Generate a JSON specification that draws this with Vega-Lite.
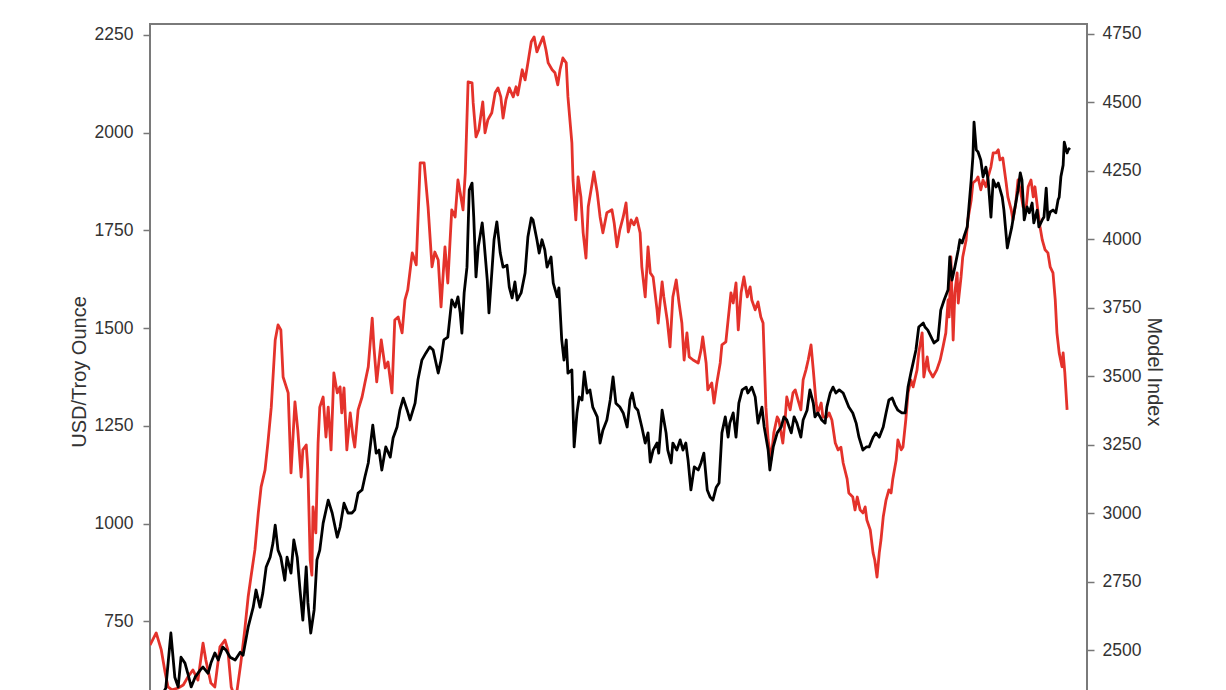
{
  "$schema": "https://vega.github.io/schema/vega-lite/v6.json",
  "width": 937,
  "height": 695,
  "autosize": {"type": "none"},
  "padding": {"left": 150, "top": 24, "right": 139, "bottom": 0},
  "background": "white",
  "config": {
    "view": {"stroke": "#7a7a7a", "strokeWidth": 2},
    "font": "Liberation Sans"
  },
  "datasets": {
    "gold": [
      {"year": 2006.00, "usd": 548}, {"year": 2006.18, "usd": 553}, {"year": 2006.28, "usd": 579}, {"year": 2006.37, "usd": 720},
      {"year": 2006.44, "usd": 607}, {"year": 2006.50, "usd": 582}, {"year": 2006.55, "usd": 658}, {"year": 2006.62, "usd": 643},
      {"year": 2006.67, "usd": 617}, {"year": 2006.73, "usd": 582}, {"year": 2006.80, "usd": 607}, {"year": 2006.89, "usd": 625},
      {"year": 2006.94, "usd": 633}, {"year": 2007.03, "usd": 617}, {"year": 2007.08, "usd": 643}, {"year": 2007.15, "usd": 669},
      {"year": 2007.21, "usd": 651}, {"year": 2007.29, "usd": 684}, {"year": 2007.35, "usd": 676}, {"year": 2007.42, "usd": 658},
      {"year": 2007.51, "usd": 651}, {"year": 2007.60, "usd": 671}, {"year": 2007.65, "usd": 663}, {"year": 2007.74, "usd": 735},
      {"year": 2007.83, "usd": 786}, {"year": 2007.88, "usd": 830}, {"year": 2007.95, "usd": 786}, {"year": 2008.00, "usd": 822},
      {"year": 2008.06, "usd": 889}, {"year": 2008.13, "usd": 914}, {"year": 2008.18, "usd": 950}, {"year": 2008.22, "usd": 996},
      {"year": 2008.27, "usd": 932}, {"year": 2008.32, "usd": 914}, {"year": 2008.39, "usd": 855}, {"year": 2008.43, "usd": 914},
      {"year": 2008.50, "usd": 873}, {"year": 2008.55, "usd": 958}, {"year": 2008.61, "usd": 914}, {"year": 2008.66, "usd": 830},
      {"year": 2008.71, "usd": 753}, {"year": 2008.77, "usd": 889}, {"year": 2008.80, "usd": 797}, {"year": 2008.85, "usd": 720},
      {"year": 2008.91, "usd": 779}, {"year": 2008.96, "usd": 907}, {"year": 2009.01, "usd": 932}, {"year": 2009.07, "usd": 1001},
      {"year": 2009.16, "usd": 1060}, {"year": 2009.23, "usd": 1027}, {"year": 2009.32, "usd": 965}, {"year": 2009.37, "usd": 991},
      {"year": 2009.44, "usd": 1052}, {"year": 2009.51, "usd": 1027}, {"year": 2009.58, "usd": 1027}, {"year": 2009.63, "usd": 1035},
      {"year": 2009.69, "usd": 1078}, {"year": 2009.76, "usd": 1086}, {"year": 2009.81, "usd": 1119}, {"year": 2009.87, "usd": 1155},
      {"year": 2009.95, "usd": 1252}, {"year": 2010.01, "usd": 1180}, {"year": 2010.06, "usd": 1188}, {"year": 2010.11, "usd": 1137},
      {"year": 2010.18, "usd": 1196}, {"year": 2010.26, "usd": 1170}, {"year": 2010.31, "usd": 1219}, {"year": 2010.38, "usd": 1247},
      {"year": 2010.43, "usd": 1290}, {"year": 2010.49, "usd": 1321}, {"year": 2010.56, "usd": 1290}, {"year": 2010.61, "usd": 1265},
      {"year": 2010.70, "usd": 1308}, {"year": 2010.75, "usd": 1367}, {"year": 2010.82, "usd": 1418}, {"year": 2010.89, "usd": 1436},
      {"year": 2010.96, "usd": 1452}, {"year": 2011.02, "usd": 1444}, {"year": 2011.11, "usd": 1385}, {"year": 2011.16, "usd": 1418},
      {"year": 2011.21, "usd": 1470}, {"year": 2011.28, "usd": 1477}, {"year": 2011.35, "usd": 1572}, {"year": 2011.41, "usd": 1554},
      {"year": 2011.46, "usd": 1580}, {"year": 2011.50, "usd": 1539}, {"year": 2011.53, "usd": 1487}, {"year": 2011.57, "usd": 1590},
      {"year": 2011.62, "usd": 1656}, {"year": 2011.66, "usd": 1853}, {"year": 2011.71, "usd": 1871}, {"year": 2011.74, "usd": 1784},
      {"year": 2011.78, "usd": 1631}, {"year": 2011.82, "usd": 1708}, {"year": 2011.89, "usd": 1769}, {"year": 2011.92, "usd": 1726},
      {"year": 2011.98, "usd": 1623}, {"year": 2012.01, "usd": 1539}, {"year": 2012.06, "usd": 1641}, {"year": 2012.10, "usd": 1726},
      {"year": 2012.15, "usd": 1772}, {"year": 2012.21, "usd": 1692}, {"year": 2012.26, "usd": 1656}, {"year": 2012.33, "usd": 1661},
      {"year": 2012.37, "usd": 1605}, {"year": 2012.42, "usd": 1577}, {"year": 2012.47, "usd": 1618}, {"year": 2012.51, "usd": 1572},
      {"year": 2012.58, "usd": 1590}, {"year": 2012.65, "usd": 1641}, {"year": 2012.70, "usd": 1733}, {"year": 2012.76, "usd": 1782},
      {"year": 2012.79, "usd": 1777}, {"year": 2012.86, "usd": 1726}, {"year": 2012.90, "usd": 1692}, {"year": 2012.95, "usd": 1726},
      {"year": 2013.00, "usd": 1700}, {"year": 2013.04, "usd": 1656}, {"year": 2013.11, "usd": 1682}, {"year": 2013.15, "usd": 1615},
      {"year": 2013.22, "usd": 1580}, {"year": 2013.25, "usd": 1603}, {"year": 2013.30, "usd": 1470}, {"year": 2013.34, "usd": 1418},
      {"year": 2013.38, "usd": 1470}, {"year": 2013.41, "usd": 1385}, {"year": 2013.48, "usd": 1393}, {"year": 2013.52, "usd": 1196},
      {"year": 2013.57, "usd": 1283}, {"year": 2013.61, "usd": 1324}, {"year": 2013.66, "usd": 1316}, {"year": 2013.70, "usd": 1388},
      {"year": 2013.75, "usd": 1334}, {"year": 2013.80, "usd": 1342}, {"year": 2013.85, "usd": 1298}, {"year": 2013.93, "usd": 1273},
      {"year": 2013.98, "usd": 1206}, {"year": 2014.03, "usd": 1239}, {"year": 2014.10, "usd": 1265}, {"year": 2014.16, "usd": 1316},
      {"year": 2014.21, "usd": 1375}, {"year": 2014.26, "usd": 1308}, {"year": 2014.33, "usd": 1298}, {"year": 2014.39, "usd": 1283},
      {"year": 2014.46, "usd": 1247}, {"year": 2014.51, "usd": 1316}, {"year": 2014.55, "usd": 1334}, {"year": 2014.60, "usd": 1298},
      {"year": 2014.65, "usd": 1290}, {"year": 2014.72, "usd": 1247}, {"year": 2014.78, "usd": 1206}, {"year": 2014.83, "usd": 1232},
      {"year": 2014.87, "usd": 1157}, {"year": 2014.92, "usd": 1188}, {"year": 2014.99, "usd": 1206}, {"year": 2015.02, "usd": 1180},
      {"year": 2015.08, "usd": 1290}, {"year": 2015.15, "usd": 1232}, {"year": 2015.18, "usd": 1188}, {"year": 2015.24, "usd": 1155},
      {"year": 2015.27, "usd": 1206}, {"year": 2015.34, "usd": 1188}, {"year": 2015.40, "usd": 1214}, {"year": 2015.45, "usd": 1188},
      {"year": 2015.50, "usd": 1206}, {"year": 2015.54, "usd": 1162}, {"year": 2015.59, "usd": 1086}, {"year": 2015.65, "usd": 1145},
      {"year": 2015.72, "usd": 1137}, {"year": 2015.77, "usd": 1155}, {"year": 2015.82, "usd": 1180}, {"year": 2015.88, "usd": 1086},
      {"year": 2015.93, "usd": 1068}, {"year": 2015.98, "usd": 1060}, {"year": 2016.04, "usd": 1093}, {"year": 2016.09, "usd": 1104},
      {"year": 2016.14, "usd": 1232}, {"year": 2016.20, "usd": 1273}, {"year": 2016.25, "usd": 1221}, {"year": 2016.28, "usd": 1257},
      {"year": 2016.34, "usd": 1283}, {"year": 2016.39, "usd": 1221}, {"year": 2016.44, "usd": 1308}, {"year": 2016.50, "usd": 1342},
      {"year": 2016.57, "usd": 1349}, {"year": 2016.60, "usd": 1334}, {"year": 2016.67, "usd": 1349}, {"year": 2016.73, "usd": 1324},
      {"year": 2016.78, "usd": 1257}, {"year": 2016.85, "usd": 1298}, {"year": 2016.89, "usd": 1247}, {"year": 2016.96, "usd": 1188},
      {"year": 2016.99, "usd": 1137}, {"year": 2017.05, "usd": 1196}, {"year": 2017.12, "usd": 1232}, {"year": 2017.19, "usd": 1247},
      {"year": 2017.24, "usd": 1273}, {"year": 2017.29, "usd": 1265}, {"year": 2017.37, "usd": 1232}, {"year": 2017.42, "usd": 1273},
      {"year": 2017.47, "usd": 1257}, {"year": 2017.54, "usd": 1221}, {"year": 2017.58, "usd": 1265}, {"year": 2017.65, "usd": 1290},
      {"year": 2017.70, "usd": 1342}, {"year": 2017.76, "usd": 1308}, {"year": 2017.79, "usd": 1273}, {"year": 2017.84, "usd": 1283},
      {"year": 2017.91, "usd": 1265}, {"year": 2017.97, "usd": 1257}, {"year": 2018.00, "usd": 1298}, {"year": 2018.06, "usd": 1334},
      {"year": 2018.11, "usd": 1349}, {"year": 2018.16, "usd": 1334}, {"year": 2018.22, "usd": 1342}, {"year": 2018.29, "usd": 1334},
      {"year": 2018.34, "usd": 1316}, {"year": 2018.39, "usd": 1298}, {"year": 2018.46, "usd": 1283}, {"year": 2018.52, "usd": 1257},
      {"year": 2018.57, "usd": 1221}, {"year": 2018.64, "usd": 1188}, {"year": 2018.70, "usd": 1196}, {"year": 2018.75, "usd": 1196},
      {"year": 2018.82, "usd": 1221}, {"year": 2018.87, "usd": 1232}, {"year": 2018.93, "usd": 1221}, {"year": 2019.00, "usd": 1247},
      {"year": 2019.05, "usd": 1283}, {"year": 2019.10, "usd": 1316}, {"year": 2019.16, "usd": 1321}, {"year": 2019.21, "usd": 1303},
      {"year": 2019.26, "usd": 1290}, {"year": 2019.33, "usd": 1283}, {"year": 2019.39, "usd": 1283}, {"year": 2019.44, "usd": 1349},
      {"year": 2019.49, "usd": 1385}, {"year": 2019.53, "usd": 1411}, {"year": 2019.58, "usd": 1444}, {"year": 2019.63, "usd": 1503},
      {"year": 2019.71, "usd": 1513}, {"year": 2019.74, "usd": 1503}, {"year": 2019.79, "usd": 1495}, {"year": 2019.85, "usd": 1477},
      {"year": 2019.90, "usd": 1462}, {"year": 2019.97, "usd": 1470}, {"year": 2020.02, "usd": 1546}, {"year": 2020.08, "usd": 1572},
      {"year": 2020.15, "usd": 1598}, {"year": 2020.18, "usd": 1682}, {"year": 2020.22, "usd": 1623}, {"year": 2020.27, "usd": 1656},
      {"year": 2020.33, "usd": 1700}, {"year": 2020.36, "usd": 1726}, {"year": 2020.40, "usd": 1718}, {"year": 2020.43, "usd": 1733},
      {"year": 2020.49, "usd": 1759}, {"year": 2020.52, "usd": 1810}, {"year": 2020.56, "usd": 1879}, {"year": 2020.59, "usd": 1938},
      {"year": 2020.61, "usd": 2027}, {"year": 2020.65, "usd": 1956}, {"year": 2020.68, "usd": 1951}, {"year": 2020.73, "usd": 1930},
      {"year": 2020.77, "usd": 1887}, {"year": 2020.82, "usd": 1912}, {"year": 2020.86, "usd": 1879}, {"year": 2020.91, "usd": 1784},
      {"year": 2020.95, "usd": 1879}, {"year": 2021.00, "usd": 1861}, {"year": 2021.04, "usd": 1871}, {"year": 2021.11, "usd": 1835},
      {"year": 2021.14, "usd": 1802}, {"year": 2021.20, "usd": 1705}, {"year": 2021.23, "usd": 1726}, {"year": 2021.28, "usd": 1759},
      {"year": 2021.32, "usd": 1795}, {"year": 2021.39, "usd": 1853}, {"year": 2021.43, "usd": 1897}, {"year": 2021.46, "usd": 1879},
      {"year": 2021.50, "usd": 1777}, {"year": 2021.55, "usd": 1810}, {"year": 2021.59, "usd": 1795}, {"year": 2021.64, "usd": 1820},
      {"year": 2021.67, "usd": 1769}, {"year": 2021.73, "usd": 1802}, {"year": 2021.76, "usd": 1759}, {"year": 2021.82, "usd": 1777},
      {"year": 2021.85, "usd": 1784}, {"year": 2021.89, "usd": 1858}, {"year": 2021.92, "usd": 1777}, {"year": 2021.96, "usd": 1797},
      {"year": 2022.01, "usd": 1802}, {"year": 2022.06, "usd": 1795}, {"year": 2022.10, "usd": 1828}, {"year": 2022.12, "usd": 1835},
      {"year": 2022.15, "usd": 1887}, {"year": 2022.19, "usd": 1917}, {"year": 2022.21, "usd": 1976}, {"year": 2022.26, "usd": 1948},
      {"year": 2022.28, "usd": 1956}, {"year": 2022.31, "usd": 1961}
    ],
    "model": [
      {"year": 2006.00, "index": 2520}, {"year": 2006.11, "index": 2564}, {"year": 2006.20, "index": 2502}, {"year": 2006.27, "index": 2418},
      {"year": 2006.32, "index": 2367}, {"year": 2006.39, "index": 2356}, {"year": 2006.50, "index": 2363}, {"year": 2006.59, "index": 2374},
      {"year": 2006.67, "index": 2403}, {"year": 2006.76, "index": 2429}, {"year": 2006.85, "index": 2392}, {"year": 2006.94, "index": 2527},
      {"year": 2006.99, "index": 2465}, {"year": 2007.08, "index": 2381}, {"year": 2007.15, "index": 2367}, {"year": 2007.24, "index": 2513},
      {"year": 2007.33, "index": 2538}, {"year": 2007.38, "index": 2502}, {"year": 2007.44, "index": 2367}, {"year": 2007.52, "index": 2319},
      {"year": 2007.61, "index": 2454}, {"year": 2007.68, "index": 2575}, {"year": 2007.74, "index": 2695}, {"year": 2007.79, "index": 2768},
      {"year": 2007.86, "index": 2867}, {"year": 2007.92, "index": 3002}, {"year": 2007.97, "index": 3097}, {"year": 2008.04, "index": 3159},
      {"year": 2008.09, "index": 3257}, {"year": 2008.15, "index": 3388}, {"year": 2008.22, "index": 3633}, {"year": 2008.27, "index": 3688},
      {"year": 2008.32, "index": 3670}, {"year": 2008.36, "index": 3498}, {"year": 2008.45, "index": 3440}, {"year": 2008.50, "index": 3148},
      {"year": 2008.57, "index": 3407}, {"year": 2008.62, "index": 3305}, {"year": 2008.68, "index": 3133}, {"year": 2008.71, "index": 3232},
      {"year": 2008.77, "index": 3250}, {"year": 2008.80, "index": 3159}, {"year": 2008.84, "index": 2830}, {"year": 2008.87, "index": 2775},
      {"year": 2008.89, "index": 3024}, {"year": 2008.94, "index": 2929}, {"year": 2008.98, "index": 3257}, {"year": 2009.01, "index": 3388},
      {"year": 2009.07, "index": 3425}, {"year": 2009.12, "index": 3279}, {"year": 2009.16, "index": 3388}, {"year": 2009.21, "index": 3232},
      {"year": 2009.26, "index": 3513}, {"year": 2009.32, "index": 3440}, {"year": 2009.37, "index": 3462}, {"year": 2009.40, "index": 3367},
      {"year": 2009.44, "index": 3458}, {"year": 2009.49, "index": 3232}, {"year": 2009.55, "index": 3367}, {"year": 2009.60, "index": 3279},
      {"year": 2009.63, "index": 3242}, {"year": 2009.69, "index": 3378}, {"year": 2009.76, "index": 3425}, {"year": 2009.81, "index": 3476},
      {"year": 2009.87, "index": 3535}, {"year": 2009.94, "index": 3713}, {"year": 2009.97, "index": 3608}, {"year": 2010.02, "index": 3480},
      {"year": 2010.10, "index": 3633}, {"year": 2010.17, "index": 3531}, {"year": 2010.22, "index": 3553}, {"year": 2010.29, "index": 3440},
      {"year": 2010.34, "index": 3706}, {"year": 2010.40, "index": 3717}, {"year": 2010.47, "index": 3659}, {"year": 2010.52, "index": 3779},
      {"year": 2010.57, "index": 3816}, {"year": 2010.65, "index": 3951}, {"year": 2010.72, "index": 3907}, {"year": 2010.79, "index": 4279},
      {"year": 2010.86, "index": 4279}, {"year": 2010.93, "index": 4119}, {"year": 2011.00, "index": 3900}, {"year": 2011.05, "index": 3954},
      {"year": 2011.11, "index": 3925}, {"year": 2011.16, "index": 3754}, {"year": 2011.23, "index": 3973}, {"year": 2011.28, "index": 3841},
      {"year": 2011.35, "index": 4108}, {"year": 2011.41, "index": 4082}, {"year": 2011.46, "index": 4217}, {"year": 2011.50, "index": 4170},
      {"year": 2011.55, "index": 4108}, {"year": 2011.59, "index": 4243}, {"year": 2011.64, "index": 4575}, {"year": 2011.71, "index": 4571},
      {"year": 2011.73, "index": 4498}, {"year": 2011.78, "index": 4374}, {"year": 2011.83, "index": 4400}, {"year": 2011.90, "index": 4502},
      {"year": 2011.94, "index": 4389}, {"year": 2011.99, "index": 4436}, {"year": 2012.06, "index": 4462}, {"year": 2012.12, "index": 4535},
      {"year": 2012.17, "index": 4553}, {"year": 2012.22, "index": 4520}, {"year": 2012.26, "index": 4443}, {"year": 2012.31, "index": 4509},
      {"year": 2012.37, "index": 4553}, {"year": 2012.44, "index": 4520}, {"year": 2012.49, "index": 4557}, {"year": 2012.52, "index": 4527},
      {"year": 2012.60, "index": 4619}, {"year": 2012.65, "index": 4582}, {"year": 2012.70, "index": 4644}, {"year": 2012.76, "index": 4721},
      {"year": 2012.81, "index": 4739}, {"year": 2012.86, "index": 4684}, {"year": 2012.91, "index": 4710}, {"year": 2012.97, "index": 4739},
      {"year": 2013.02, "index": 4692}, {"year": 2013.06, "index": 4644}, {"year": 2013.13, "index": 4619}, {"year": 2013.18, "index": 4608},
      {"year": 2013.23, "index": 4564}, {"year": 2013.27, "index": 4619}, {"year": 2013.32, "index": 4662}, {"year": 2013.38, "index": 4644},
      {"year": 2013.41, "index": 4520}, {"year": 2013.48, "index": 4352}, {"year": 2013.50, "index": 4217}, {"year": 2013.55, "index": 4071},
      {"year": 2013.59, "index": 4228}, {"year": 2013.64, "index": 4155}, {"year": 2013.68, "index": 4024}, {"year": 2013.73, "index": 3932},
      {"year": 2013.77, "index": 4119}, {"year": 2013.84, "index": 4206}, {"year": 2013.87, "index": 4246}, {"year": 2013.93, "index": 4170},
      {"year": 2013.98, "index": 4082}, {"year": 2014.03, "index": 4024}, {"year": 2014.10, "index": 4097}, {"year": 2014.19, "index": 4108},
      {"year": 2014.23, "index": 4060}, {"year": 2014.28, "index": 3973}, {"year": 2014.33, "index": 4035}, {"year": 2014.39, "index": 4082},
      {"year": 2014.44, "index": 4133}, {"year": 2014.48, "index": 4027}, {"year": 2014.53, "index": 4071}, {"year": 2014.58, "index": 4053},
      {"year": 2014.63, "index": 4078}, {"year": 2014.69, "index": 4024}, {"year": 2014.72, "index": 3900}, {"year": 2014.78, "index": 3790},
      {"year": 2014.83, "index": 3973}, {"year": 2014.87, "index": 3878}, {"year": 2014.92, "index": 3863}, {"year": 2014.99, "index": 3743},
      {"year": 2015.01, "index": 3695}, {"year": 2015.08, "index": 3845}, {"year": 2015.11, "index": 3790}, {"year": 2015.17, "index": 3706},
      {"year": 2015.22, "index": 3608}, {"year": 2015.27, "index": 3790}, {"year": 2015.33, "index": 3852}, {"year": 2015.38, "index": 3768},
      {"year": 2015.43, "index": 3695}, {"year": 2015.47, "index": 3560}, {"year": 2015.52, "index": 3659}, {"year": 2015.56, "index": 3571},
      {"year": 2015.63, "index": 3560}, {"year": 2015.72, "index": 3549}, {"year": 2015.77, "index": 3597}, {"year": 2015.80, "index": 3644},
      {"year": 2015.86, "index": 3549}, {"year": 2015.89, "index": 3451}, {"year": 2015.96, "index": 3476}, {"year": 2016.00, "index": 3403},
      {"year": 2016.05, "index": 3476}, {"year": 2016.11, "index": 3549}, {"year": 2016.14, "index": 3615}, {"year": 2016.21, "index": 3626},
      {"year": 2016.25, "index": 3706}, {"year": 2016.30, "index": 3805}, {"year": 2016.34, "index": 3768}, {"year": 2016.39, "index": 3841},
      {"year": 2016.43, "index": 3670}, {"year": 2016.48, "index": 3805}, {"year": 2016.53, "index": 3863}, {"year": 2016.59, "index": 3790},
      {"year": 2016.64, "index": 3827}, {"year": 2016.67, "index": 3779}, {"year": 2016.73, "index": 3743}, {"year": 2016.78, "index": 3772},
      {"year": 2016.83, "index": 3717}, {"year": 2016.87, "index": 3695}, {"year": 2016.92, "index": 3388}, {"year": 2016.96, "index": 3268},
      {"year": 2017.01, "index": 3195}, {"year": 2017.06, "index": 3294}, {"year": 2017.12, "index": 3352}, {"year": 2017.15, "index": 3341},
      {"year": 2017.22, "index": 3257}, {"year": 2017.26, "index": 3341}, {"year": 2017.29, "index": 3425}, {"year": 2017.35, "index": 3378},
      {"year": 2017.40, "index": 3440}, {"year": 2017.44, "index": 3451}, {"year": 2017.49, "index": 3414}, {"year": 2017.54, "index": 3378},
      {"year": 2017.58, "index": 3487}, {"year": 2017.63, "index": 3524}, {"year": 2017.67, "index": 3560}, {"year": 2017.72, "index": 3615},
      {"year": 2017.76, "index": 3524}, {"year": 2017.81, "index": 3403}, {"year": 2017.84, "index": 3367}, {"year": 2017.90, "index": 3403},
      {"year": 2017.93, "index": 3352}, {"year": 2018.00, "index": 3352}, {"year": 2018.04, "index": 3367}, {"year": 2018.09, "index": 3341},
      {"year": 2018.15, "index": 3257}, {"year": 2018.20, "index": 3232}, {"year": 2018.25, "index": 3242}, {"year": 2018.29, "index": 3184},
      {"year": 2018.36, "index": 3126}, {"year": 2018.39, "index": 3075}, {"year": 2018.46, "index": 3060}, {"year": 2018.50, "index": 3013},
      {"year": 2018.54, "index": 3060}, {"year": 2018.59, "index": 3013}, {"year": 2018.64, "index": 3002}, {"year": 2018.68, "index": 3024},
      {"year": 2018.71, "index": 2976}, {"year": 2018.77, "index": 2940}, {"year": 2018.82, "index": 2856}, {"year": 2018.85, "index": 2830},
      {"year": 2018.89, "index": 2768}, {"year": 2018.93, "index": 2856}, {"year": 2018.96, "index": 2903}, {"year": 2019.00, "index": 2987},
      {"year": 2019.05, "index": 3049}, {"year": 2019.10, "index": 3086}, {"year": 2019.14, "index": 3075}, {"year": 2019.17, "index": 3126},
      {"year": 2019.23, "index": 3195}, {"year": 2019.26, "index": 3268}, {"year": 2019.32, "index": 3232}, {"year": 2019.35, "index": 3242},
      {"year": 2019.40, "index": 3341}, {"year": 2019.44, "index": 3440}, {"year": 2019.49, "index": 3487}, {"year": 2019.53, "index": 3462},
      {"year": 2019.60, "index": 3524}, {"year": 2019.63, "index": 3586}, {"year": 2019.69, "index": 3659}, {"year": 2019.72, "index": 3498},
      {"year": 2019.78, "index": 3571}, {"year": 2019.81, "index": 3524}, {"year": 2019.88, "index": 3498}, {"year": 2019.95, "index": 3524},
      {"year": 2020.01, "index": 3560}, {"year": 2020.06, "index": 3608}, {"year": 2020.11, "index": 3659}, {"year": 2020.15, "index": 3779},
      {"year": 2020.17, "index": 3717}, {"year": 2020.20, "index": 3936}, {"year": 2020.24, "index": 3633}, {"year": 2020.27, "index": 3805},
      {"year": 2020.31, "index": 3878}, {"year": 2020.33, "index": 3768}, {"year": 2020.38, "index": 3863}, {"year": 2020.41, "index": 3936},
      {"year": 2020.47, "index": 3998}, {"year": 2020.50, "index": 4071}, {"year": 2020.56, "index": 4144}, {"year": 2020.59, "index": 4206},
      {"year": 2020.65, "index": 4217}, {"year": 2020.68, "index": 4228}, {"year": 2020.73, "index": 4181}, {"year": 2020.77, "index": 4217},
      {"year": 2020.82, "index": 4192}, {"year": 2020.86, "index": 4228}, {"year": 2020.91, "index": 4265}, {"year": 2020.95, "index": 4316},
      {"year": 2021.00, "index": 4316}, {"year": 2021.04, "index": 4327}, {"year": 2021.07, "index": 4290}, {"year": 2021.12, "index": 4297},
      {"year": 2021.18, "index": 4206}, {"year": 2021.21, "index": 4155}, {"year": 2021.27, "index": 4108}, {"year": 2021.30, "index": 4071},
      {"year": 2021.35, "index": 4133}, {"year": 2021.39, "index": 4217}, {"year": 2021.44, "index": 4170}, {"year": 2021.48, "index": 4119},
      {"year": 2021.53, "index": 4108}, {"year": 2021.57, "index": 4192}, {"year": 2021.62, "index": 4217}, {"year": 2021.66, "index": 4155},
      {"year": 2021.69, "index": 4192}, {"year": 2021.74, "index": 4108}, {"year": 2021.78, "index": 4046}, {"year": 2021.82, "index": 3998},
      {"year": 2021.87, "index": 3962}, {"year": 2021.92, "index": 3951}, {"year": 2021.96, "index": 3900}, {"year": 2022.01, "index": 3878},
      {"year": 2022.05, "index": 3779}, {"year": 2022.08, "index": 3659}, {"year": 2022.12, "index": 3586}, {"year": 2022.17, "index": 3535},
      {"year": 2022.19, "index": 3586}, {"year": 2022.22, "index": 3513}, {"year": 2022.26, "index": 3378}
    ]
  },
  "layer": [
    {
      "data": {"name": "model"},
      "mark": {"type": "line", "color": "#e4322b", "strokeWidth": 2.8, "clip": true, "strokeJoin": "round"},
      "encoding": {
        "x": {"field": "year", "type": "quantitative", "scale": {"domain": [2006, 2022.613], "nice": false, "zero": false}, "axis": null},
        "y": {
          "field": "index", "type": "quantitative",
          "scale": {"domain": [2250, 4786], "nice": false, "zero": false},
          "axis": {
            "orient": "right", "values": [2500, 2750, 3000, 3250, 3500, 3750, 4000, 4250, 4500, 4750], "format": "d",
            "title": "Model Index", "domain": false, "grid": false,
            "tickSize": 7, "tickColor": "#777777", "tickWidth": 1.5,
            "labelPadding": 8, "labelFontSize": 17.5, "labelColor": "#333333", "labelFont": "Liberation Sans",
            "titleFont": "Liberation Sans", "titleFontSize": 20, "titleFontWeight": "normal", "titleColor": "#333333", "titlePadding": 3
          }
        }
      }
    },
    {
      "data": {"name": "gold"},
      "mark": {"type": "line", "color": "#000000", "strokeWidth": 2.8, "clip": true, "strokeJoin": "round"},
      "encoding": {
        "x": {"field": "year", "type": "quantitative", "scale": {"domain": [2006, 2022.613], "nice": false, "zero": false}, "axis": null},
        "y": {
          "field": "usd", "type": "quantitative",
          "scale": {"domain": [500, 2278], "nice": false, "zero": false},
          "axis": {
            "orient": "left", "values": [750, 1000, 1250, 1500, 1750, 2000, 2250], "format": "d",
            "title": "USD/Troy Ounce", "domain": false, "grid": false,
            "tickSize": 7, "tickColor": "#777777", "tickWidth": 1.5,
            "labelPadding": 10, "labelFontSize": 17.5, "labelColor": "#333333", "labelFont": "Liberation Sans",
            "titleFont": "Liberation Sans", "titleFontSize": 20, "titleFontWeight": "normal", "titleColor": "#333333", "titlePadding": 5
          }
        }
      }
    }
  ],
  "resolve": {"scale": {"y": "independent"}}
}
